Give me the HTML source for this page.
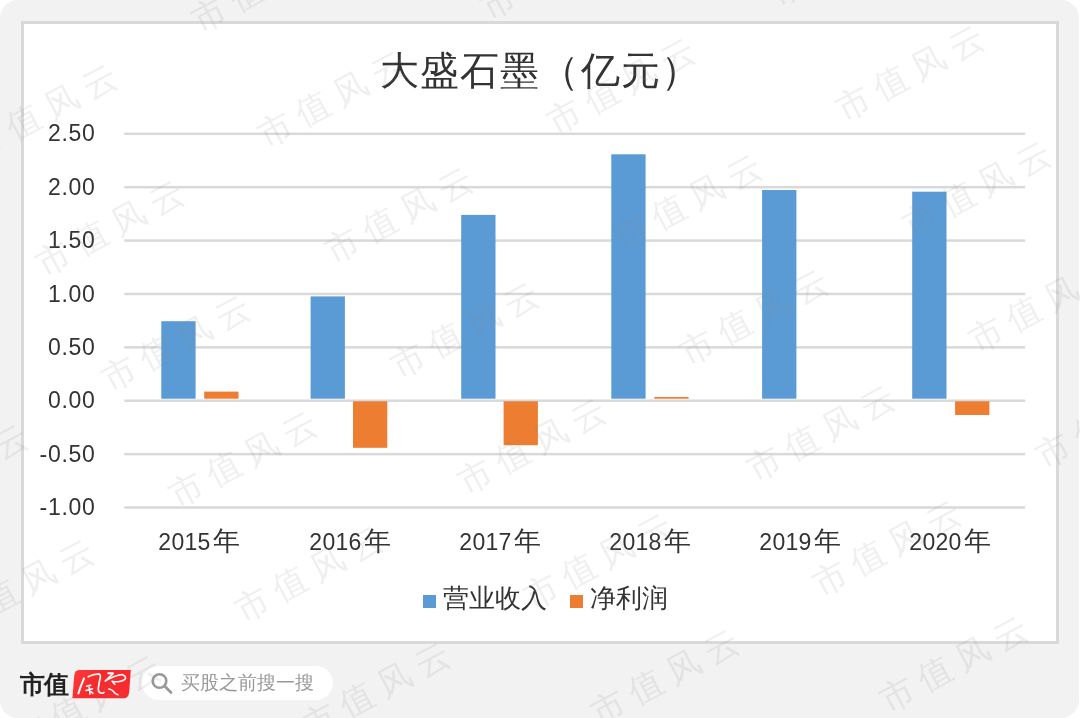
<!DOCTYPE html>
<html><head><meta charset="utf-8">
<style>
html,body{margin:0;padding:0;width:1080px;height:718px;overflow:hidden;background:#fff;}
body{position:relative;font-family:"Liberation Sans",sans-serif;-webkit-font-smoothing:antialiased;}
.title,.yl,.cl,.leg,.brand,.ptxt{will-change:transform;}
.bg{position:absolute;left:0;top:0;width:1079px;height:718px;background:#f2f2f2;border-radius:18px;}
.box{position:absolute;left:21px;top:21px;width:1032px;height:617px;border:3px solid #d9d9d9;background:#fff;}
svg.chart{position:absolute;left:0;top:0;}
.title{position:absolute;left:0;width:1080px;top:46px;text-align:center;font-size:39px;line-height:50px;color:#333;letter-spacing:1.2px;text-indent:1px;}
.yl{position:absolute;left:0;width:95.5px;text-align:right;font-size:23px;line-height:26px;color:#333;letter-spacing:0.7px;}
.cl{position:absolute;width:120px;top:527px;text-align:center;font-size:23px;line-height:28px;color:#333;letter-spacing:0.3px;}
.cj{font-size:27px;margin-left:2px;letter-spacing:0;}
.leg{position:absolute;top:583px;font-size:26px;line-height:30px;color:#333;}
.sq{position:absolute;width:13px;height:13px;top:595px;}
.wm{position:absolute;font-size:34px;line-height:34px;letter-spacing:8.8px;color:rgba(128,128,128,0.13);white-space:nowrap;transform-origin:17px 17px;transform:rotate(-28deg);}
.brand{position:absolute;left:20px;top:669px;font-family:"Liberation Serif",serif;font-weight:bold;font-size:25px;letter-spacing:-1px;line-height:32px;color:#222;}
.pill{position:absolute;left:142px;top:666px;width:191px;height:34px;border-radius:17px;background:#fff;}
.ptxt{position:absolute;left:181px;top:670px;font-size:19px;line-height:26px;color:#999;}
</style></head><body>
<div class="bg"></div>
<div class="box"></div>
<svg class="chart" width="1080" height="718" viewBox="0 0 1080 718">
<rect x="124.3" y="132.55" width="900.8" height="2.5" fill="#d9d9d9"/>
<rect x="124.3" y="185.94" width="900.8" height="2.5" fill="#d9d9d9"/>
<rect x="124.3" y="239.32" width="900.8" height="2.5" fill="#d9d9d9"/>
<rect x="124.3" y="292.71" width="900.8" height="2.5" fill="#d9d9d9"/>
<rect x="124.3" y="346.09" width="900.8" height="2.5" fill="#d9d9d9"/>
<rect x="124.3" y="399.48" width="900.8" height="2.5" fill="#d9d9d9"/>
<rect x="124.3" y="452.86" width="900.8" height="2.5" fill="#d9d9d9"/>
<rect x="124.3" y="506.25" width="900.8" height="2.5" fill="#d9d9d9"/>
<rect x="161.3" y="321.2" width="34.3" height="77.5" fill="#5b9bd5"/>
<rect x="310.6" y="296.4" width="34.3" height="102.3" fill="#5b9bd5"/>
<rect x="461.2" y="214.9" width="34.3" height="183.8" fill="#5b9bd5"/>
<rect x="611.3" y="154.3" width="34.3" height="244.4" fill="#5b9bd5"/>
<rect x="762.1" y="190.0" width="34.3" height="208.7" fill="#5b9bd5"/>
<rect x="912.2" y="191.7" width="34.3" height="207.0" fill="#5b9bd5"/>
<rect x="204.2" y="391.6" width="34.3" height="7.1" fill="#ed7d31"/>
<rect x="353.0" y="401.3" width="34.3" height="46.5" fill="#ed7d31"/>
<rect x="503.6" y="401.3" width="34.3" height="43.9" fill="#ed7d31"/>
<rect x="654.3" y="397.0" width="34.3" height="1.7" fill="#ed7d31"/>
<rect x="955.1" y="401.3" width="34.3" height="13.7" fill="#ed7d31"/>
</svg>
<div class="title">大盛石墨（亿元）</div>
<div class="yl" style="top:120.3px">2.50</div>
<div class="yl" style="top:173.7px">2.00</div>
<div class="yl" style="top:227.1px">1.50</div>
<div class="yl" style="top:280.5px">1.00</div>
<div class="yl" style="top:333.8px">0.50</div>
<div class="yl" style="top:387.2px">0.00</div>
<div class="yl" style="top:440.6px">-0.50</div>
<div class="yl" style="top:494.0px">-1.00</div>
<div class="cl" style="left:139.4px">2015<span class="cj">年</span></div>
<div class="cl" style="left:289.5px">2016<span class="cj">年</span></div>
<div class="cl" style="left:439.6px">2017<span class="cj">年</span></div>
<div class="cl" style="left:589.8px">2018<span class="cj">年</span></div>
<div class="cl" style="left:739.9px">2019<span class="cj">年</span></div>
<div class="cl" style="left:890.0px">2020<span class="cj">年</span></div>
<div class="sq" style="left:422.5px;background:#5b9bd5"></div>
<div class="leg" style="left:443px">营业收入</div>
<div class="sq" style="left:570px;background:#ed7d31"></div>
<div class="leg" style="left:590px">净利润</div>
<div class="brand">市值</div>
<svg style="position:absolute;left:0;top:0" width="1080" height="718">
<defs><linearGradient id="rg" x1="0" y1="0" x2="1" y2="0.3"><stop offset="0" stop-color="#fc3b3d"/><stop offset="0.5" stop-color="#f8282b"/><stop offset="1" stop-color="#fa2b2e"/></linearGradient></defs>
<path d="M79 670 L130.8 670 L129.2 692 Q128.6 698.3 123.5 698.3 L72.4 698.3 L74.2 676 Q74.8 670 79 670 Z" fill="url(#rg)"/>
<g fill="none" stroke="#fff" stroke-linecap="round" stroke-linejoin="round">
<path d="M84 678.4 Q80.5 686 78.4 693.6" stroke-width="2"/>
<path d="M88.2 676.8 Q92.5 674.2 99.1 673.9 Q100.8 675 100.3 677.5 Q98.8 683.5 98.3 688.5 Q98.2 692.8 101.5 693.2 Q103.2 693.4 104 692.5" stroke-width="1.7"/>
<path d="M86.5 686.2 L90.8 685.3 M86 690.5 L92.5 688.8 M89 685.5 Q89.5 690 90 694.2 M91 691.5 L93 693.5" stroke-width="1.5"/>
<path d="M108.3 673.2 L112.9 673.4" stroke-width="2.1"/>
<path d="M112.4 674.3 Q108 678 105.3 681" stroke-width="1.7"/>
<path d="M106 680.5 Q114.5 675.5 122 674.5 Q126 676 125.5 678.5 Q124 681 118 681.8 Q114 681.8 112 681.2 Q113.5 683.5 115 684.3" stroke-width="1.5"/>
<path d="M108.7 688.9 Q111.5 689.2 113 691 Q115 694 117.9 694.7" stroke-width="1.5"/>
</g>
</svg>
<div class="pill"></div>
<svg style="position:absolute;left:0;top:0" width="1080" height="718">
<circle cx="159.5" cy="681" r="6.8" fill="none" stroke="#999" stroke-width="2.6"/>
<line x1="164.5" y1="686" x2="171" y2="692.5" stroke="#999" stroke-width="2.8" stroke-linecap="round"/>
</svg>
<div class="ptxt">买股之前搜一搜</div>
<div class="wm" style="left:-164.0px;top:-106.0px">市值风云</div>
<div class="wm" style="left:125.0px;top:-119.0px">市值风云</div>
<div class="wm" style="left:414.0px;top:-132.0px">市值风云</div>
<div class="wm" style="left:703.0px;top:-145.0px">市值风云</div>
<div class="wm" style="left:992.0px;top:-158.0px">市值风云</div>
<div class="wm" style="left:-97.5px;top:9.5px">市值风云</div>
<div class="wm" style="left:191.5px;top:-3.5px">市值风云</div>
<div class="wm" style="left:480.5px;top:-16.5px">市值风云</div>
<div class="wm" style="left:769.5px;top:-29.5px">市值风云</div>
<div class="wm" style="left:1058.5px;top:-42.5px">市值风云</div>
<div class="wm" style="left:-31.0px;top:125.0px">市值风云</div>
<div class="wm" style="left:258.0px;top:112.0px">市值风云</div>
<div class="wm" style="left:547.0px;top:99.0px">市值风云</div>
<div class="wm" style="left:836.0px;top:86.0px">市值风云</div>
<div class="wm" style="left:1125.0px;top:73.0px">市值风云</div>
<div class="wm" style="left:35.5px;top:240.5px">市值风云</div>
<div class="wm" style="left:324.5px;top:227.5px">市值风云</div>
<div class="wm" style="left:613.5px;top:214.5px">市值风云</div>
<div class="wm" style="left:902.5px;top:201.5px">市值风云</div>
<div class="wm" style="left:1191.5px;top:188.5px">市值风云</div>
<div class="wm" style="left:-187.0px;top:369.0px">市值风云</div>
<div class="wm" style="left:102.0px;top:356.0px">市值风云</div>
<div class="wm" style="left:391.0px;top:343.0px">市值风云</div>
<div class="wm" style="left:680.0px;top:330.0px">市值风云</div>
<div class="wm" style="left:969.0px;top:317.0px">市值风云</div>
<div class="wm" style="left:-120.5px;top:484.5px">市值风云</div>
<div class="wm" style="left:168.5px;top:471.5px">市值风云</div>
<div class="wm" style="left:457.5px;top:458.5px">市值风云</div>
<div class="wm" style="left:746.5px;top:445.5px">市值风云</div>
<div class="wm" style="left:1035.5px;top:432.5px">市值风云</div>
<div class="wm" style="left:-54.0px;top:600.0px">市值风云</div>
<div class="wm" style="left:235.0px;top:587.0px">市值风云</div>
<div class="wm" style="left:524.0px;top:574.0px">市值风云</div>
<div class="wm" style="left:813.0px;top:561.0px">市值风云</div>
<div class="wm" style="left:1102.0px;top:548.0px">市值风云</div>
<div class="wm" style="left:12.5px;top:715.5px">市值风云</div>
<div class="wm" style="left:301.5px;top:702.5px">市值风云</div>
<div class="wm" style="left:590.5px;top:689.5px">市值风云</div>
<div class="wm" style="left:879.5px;top:676.5px">市值风云</div>
<div class="wm" style="left:1168.5px;top:663.5px">市值风云</div>
<div class="wm" style="left:79.0px;top:831.0px">市值风云</div>
<div class="wm" style="left:368.0px;top:818.0px">市值风云</div>
<div class="wm" style="left:657.0px;top:805.0px">市值风云</div>
<div class="wm" style="left:946.0px;top:792.0px">市值风云</div>
</body></html>
